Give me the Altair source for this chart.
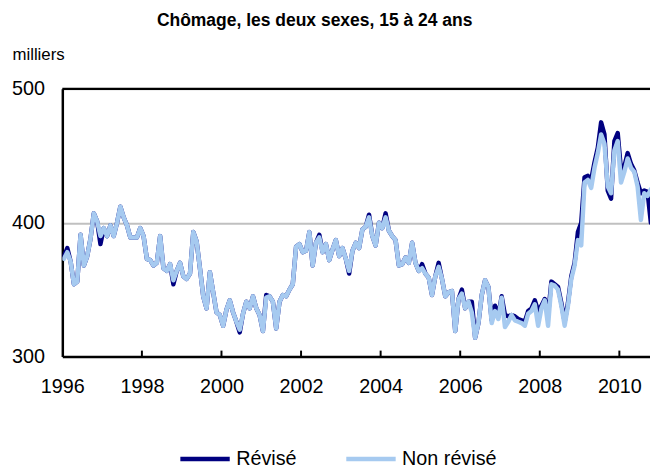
import altair as alt
import pandas as pd

start_year = 1996
series_names = ["Révisé", "Non révisé"]
series_colors = ["#000080", "#a6caf0"]
year_ticks = [1996, 1998, 2000, 2002, 2004, 2006, 2008, 2010]
y_ticks = [300, 400, 500]

revise = [
    375, 381, 371, 354, 356, 391, 368, 375, 388, 407, 401, 384,
    396, 390, 398, 390, 400, 412, 404, 398, 389, 389, 389, 396,
    390, 373, 372, 368, 370, 390, 366, 364, 369, 354, 364, 370,
    360, 358, 362, 393, 386, 366, 345, 336, 363, 348, 333, 331,
    323, 335, 342, 333, 326, 318, 332, 341, 336, 345, 336, 331,
    319, 346, 345, 341, 321, 341, 346, 345, 350, 354, 382, 384,
    378, 379, 393, 368, 385, 391, 378, 384, 372, 380, 387, 375,
    381, 373, 362, 379, 385, 381, 395, 397, 406, 390, 383, 400,
    396, 407, 394, 390, 387, 368, 369, 374, 370, 385, 370, 364,
    369, 362, 359, 346, 360, 370, 358, 345, 348, 349, 319, 343,
    350, 336, 341, 341, 314, 325, 346, 357, 352, 327, 338, 330,
    345, 331, 330, 331, 330, 328, 327, 326, 334, 336, 342, 334,
    338, 343, 331, 356, 354, 352, 340, 326, 340, 360, 370, 393,
    400, 434, 435, 432, 445, 456, 475, 466, 424, 418, 461, 467,
    439, 442, 452, 444, 439, 430, 422, 424, 423, 400,
]

non_revise = [
    373, 378, 371, 354, 356, 391, 368, 375, 388, 407, 401, 390,
    396, 390, 398, 390, 400, 412, 404, 398, 389, 389, 389, 396,
    390, 373, 372, 368, 370, 390, 366, 364, 369, 357, 364, 370,
    360, 358, 362, 393, 386, 366, 345, 336, 363, 348, 333, 331,
    323, 335, 342, 333, 326, 320, 332, 341, 336, 345, 336, 331,
    319, 344, 345, 341, 321, 341, 346, 345, 350, 354, 382, 384,
    378, 379, 393, 368, 385, 389, 378, 384, 372, 380, 387, 375,
    381, 373, 364, 379, 385, 381, 395, 397, 404, 390, 383, 400,
    396, 404, 394, 390, 387, 368, 369, 374, 370, 385, 370, 364,
    366, 362, 359, 346, 360, 367, 358, 345, 348, 349, 319, 343,
    347, 336, 341, 333, 314, 325, 346, 357, 352, 325, 334, 328,
    344, 322, 326, 331, 327, 326, 325, 323, 332, 334, 339, 323,
    336, 342, 323, 354, 353, 350, 338, 323, 338, 358, 368, 387,
    383, 430, 432, 426, 441, 452, 466, 459, 427, 422, 454, 461,
    430, 438, 448, 441, 438, 427, 402, 422, 420, 425,
]

n = len(revise)
t = [start_year + (i + 0.5) / 12 for i in range(n)]
df = pd.DataFrame({
    "t": t + t,
    "v": revise + non_revise,
    "s": [series_names[0]] * n + [series_names[1]] * n,
})

FONT = "Liberation Sans"
W, H = 595, 271

x = alt.X(
    "t:Q",
    scale=alt.Scale(domain=[1996, 2010.77], nice=False, zero=False),
    axis=alt.Axis(values=year_ticks, format="d", ticks=False, grid=False,
                  domainColor="black", domainWidth=2.5, labelFontSize=20,
                  labelColor="black", labelPadding=20, labelFont=FONT,
                  title=None, labelOverlap=False, labelFlush=False),
)
y = alt.Y(
    "v:Q",
    scale=alt.Scale(domain=[300, 500], nice=False, zero=False),
    axis=alt.Axis(values=y_ticks, ticks=False, grid=True, gridColor="#c0c0c0",
                  gridWidth=2, domainColor="black", domainWidth=2.5,
                  labelFontSize=20, labelColor="black", labelPadding=18,
                  labelFont=FONT, title="milliers", titleAngle=0,
                  titleX=-51, titleY=-35, titleAlign="left",
                  titleBaseline="middle", titleFontSize=17,
                  titleFontWeight="normal", titleColor="black", titleFont=FONT),
)
color = alt.Color(
    "s:N",
    scale=alt.Scale(domain=series_names, range=series_colors),
    legend=alt.Legend(orient="none", legendX=117, legendY=347,
                      direction="horizontal", title=None,
                      symbolType="stroke", symbolSize=2500,
                      symbolStrokeWidth=4.5, labelFontSize=20,
                      labelFont=FONT, labelColor="black", labelOffset=4,
                      columnPadding=40, padding=0),
)

base = alt.Chart(df)
navy = base.transform_filter(alt.datum.s == series_names[0]).mark_line(
    strokeWidth=4.5, strokeJoin="round", strokeCap="round", clip=True
).encode(x=x, y=y, color=color)
light = base.transform_filter(alt.datum.s == series_names[1]).mark_line(
    strokeWidth=4.5, strokeJoin="round", strokeCap="round", clip=True
).encode(x=x, y=y, color=color)

top_rule = alt.Chart(pd.DataFrame({"v": [500]})).mark_rule(
    color="black", strokeWidth=2.5
).encode(y=y)

ticks_df = pd.DataFrame({"t": year_ticks[1:]})
tick_rules = alt.Chart(ticks_df).mark_rule(color="black", strokeWidth=2).encode(
    x=x, y=alt.value(H - 6), y2=alt.value(H)
)

chart = alt.layer(navy, light, top_rule, tick_rules).properties(
    width=W, height=H,
    autosize=alt.AutoSizeParams(type="none"),
    padding={"left": 55, "top": 79, "right": 0, "bottom": 112},
    title=alt.TitleParams(
        "Chômage, les deux sexes, 15 à 24 ans", fontSize=17.7,
        fontWeight="bold", font=FONT, color="black", anchor="middle",
        frame="group", dx=-42, offset=16,
    ),
).configure_view(stroke=None).configure(background="white")

chart.save("out.html", embed_options={"renderer": "svg", "actions": False})
